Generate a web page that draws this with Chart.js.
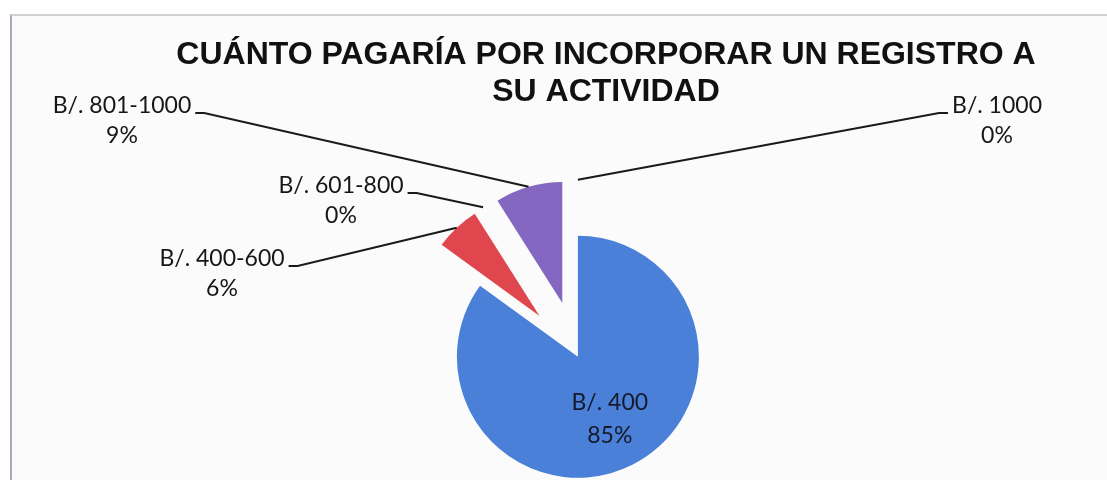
<!DOCTYPE html>
<html>
<head>
<meta charset="utf-8">
<script src="https://cdn.jsdelivr.net/npm/chart.js@4/dist/chart.umd.min.js"></script>
<style>
  html, body { margin: 0; padding: 0; background: #fff; overflow: hidden; }
  #frame {
    position: absolute; left: 10px; top: 14px; right: -4px; bottom: -4px;
    background: #fbfbfb;
    border-left: 2px solid #a9abb8;
    border-top: 2px solid #d2d2d6;
  }
  #box { position: absolute; left: 0; top: 0; width: 1107px; height: 480px; }
</style>
</head>
<body>
<div id="frame"></div>
<div id="box"><canvas id="pieChart"></canvas></div>
<script>
var categories = ['B/. 400', 'B/. 400-600', 'B/. 601-800', 'B/. 801-1000', 'B/. 1000'];
var percents = [85, 6, 0, 9, 0];
var sliceColors = ['#4a80d8', '#e0464d', '#9bbb59', '#8367c0', '#4bacc6'];

// how far each slice is pulled out of the pie
var explode = [0, 56, 56, 56, 56];
// where the text of each label sits (centre of first line)
var labelSpots = [null, [222, 259], [341, 186], [122, 106], [997, 106]];

var explodePlugin = {
    id: 'explode',
    afterDatasetUpdate: function (chart, args) {
        var arcs = chart.getDatasetMeta(args.index).data;
        arcs.forEach(function (arc, i) {
            var mid = (arc.startAngle + arc.endAngle) / 2;
            arc.x += Math.cos(mid) * explode[i];
            arc.y += Math.sin(mid) * explode[i];
        });
    }
};

var labelPlugin = {
    id: 'sliceLabels',
    afterDatasetsDraw: function (chart) {
        var ctx = chart.ctx;
        var arcs = chart.getDatasetMeta(0).data;
        var values = chart.data.datasets[0].data;
        var total = values.reduce(function (a, b) { return a + b; }, 0);
        ctx.save();
        ctx.font = '23px Lato';
        ctx.textAlign = 'center';
        ctx.textBaseline = 'middle';
        arcs.forEach(function (arc, i) {
            var pct = Math.round(values[i] / total * 100) + '%';
            var mid = (arc.startAngle + arc.endAngle) / 2;
            var r = arc.outerRadius;
            if (!labelSpots[i]) {
                var cx = arc.x + Math.cos(mid) * r * 0.58;
                var cy = arc.y + Math.sin(mid) * r * 0.58;
                ctx.fillStyle = '#151a2a';
                ctx.fillText(chart.data.labels[i], cx, cy - 17);
                ctx.fillText(pct, cx, cy + 16);
                return;
            }
            var lx = labelSpots[i][0], ly = labelSpots[i][1];
            ctx.fillStyle = '#161616';
            ctx.fillText(chart.data.labels[i], lx, ly);
            ctx.fillText(pct, lx, ly + 30);

            var ex = arc.x + Math.cos(mid) * r;
            var ey = arc.y + Math.sin(mid) * r;
            var half = ctx.measureText(chart.data.labels[i]).width / 2;
            var side = ex > lx ? 1 : -1;
            var sx = lx + side * (half + 4);
            var sy = ly + 7;
            ctx.beginPath();
            ctx.moveTo(sx, sy);
            ctx.lineTo(sx + side * 9, sy);
            ctx.lineTo(ex, ey);
            ctx.strokeStyle = '#1a1a1a';
            ctx.lineWidth = 2;
            ctx.stroke();
        });
        ctx.restore();
    }
};

new Chart('pieChart', {
    type: 'pie',
    data: {
        labels: categories,
        datasets: [{
            data: percents,
            backgroundColor: sliceColors,
            borderWidth: 0
        }]
    },
    options: {
        responsive: true,
        maintainAspectRatio: false,
        animation: false,
        radius: 121,
        layout: { padding: { left: 105, right: 0, top: 0, bottom: 0 } },
        plugins: {
            legend: { display: false },
            tooltip: { enabled: false },
            title: {
                display: true,
                text: ['CUÁNTO PAGARÍA POR INCORPORAR UN REGISTRO A', 'SU ACTIVIDAD'],
                color: '#111',
                font: { family: 'Liberation Sans', size: 32, weight: 'bold', lineHeight: 1.18 },
                padding: { top: 36, bottom: 122 }
            },
            // empty box on the right so the pie sits left of the title centre
            subtitle: {
                display: true,
                text: '',
                position: 'right',
                font: { size: 1 },
                padding: { top: 55, bottom: 0 }
            }
        }
    },
    plugins: [explodePlugin, labelPlugin]
});
</script>
</body>
</html>
